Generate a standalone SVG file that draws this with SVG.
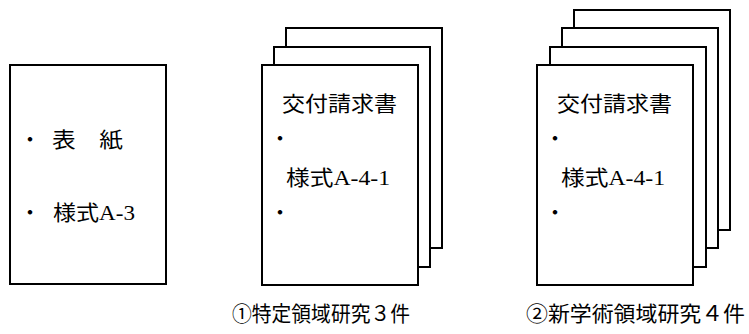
<svg xmlns="http://www.w3.org/2000/svg" width="749" height="334" viewBox="0 0 749 334">
<style>
.pg{fill:#fff;stroke:#000;stroke-width:2}
.t{font-family:"Liberation Serif","Noto Sans CJK JP",serif;font-size:21px;fill:#000}
.b{font-family:"Noto Sans CJK JP",sans-serif;font-size:21px;fill:#000;text-anchor:middle}
</style>
<rect width="749" height="334" fill="#fff"/>
<g id="cover">
<rect class="pg" x="10" y="65" width="156" height="219"/>
<text class="b" x="30" y="147">・</text>
<text class="t" x="52" y="147" textLength="71" lengthAdjust="spacingAndGlyphs">表　紙</text>
<text class="b" x="30" y="220">・</text>
<text class="t" x="53" y="220" textLength="82" lengthAdjust="spacingAndGlyphs">様式A-3</text>
</g>
<g id="stack1">
<rect class="pg" x="286" y="28" width="156" height="220"/>
<rect class="pg" x="274" y="47" width="156" height="220"/>
<rect class="pg" x="262" y="65" width="156" height="220"/>
<text class="t" x="282" y="111" textLength="115" lengthAdjust="spacingAndGlyphs">交付請求書</text>
<text class="b" x="280" y="146">・</text>
<text class="t" x="286" y="185" textLength="104" lengthAdjust="spacingAndGlyphs">様式A-4-1</text>
<text class="b" x="280" y="220">・</text>
</g>
<g id="stack2">
<rect class="pg" x="574" y="10" width="156" height="220"/>
<rect class="pg" x="562" y="28" width="156" height="220"/>
<rect class="pg" x="550" y="47" width="156" height="220"/>
<rect class="pg" x="537" y="65" width="156" height="220"/>
<text class="t" x="557" y="111" textLength="115" lengthAdjust="spacingAndGlyphs">交付請求書</text>
<text class="b" x="555" y="146">・</text>
<text class="t" x="561" y="185" textLength="104" lengthAdjust="spacingAndGlyphs">様式A-4-1</text>
<text class="b" x="555" y="220">・</text>
</g>
<g id="caption1">
<text class="t" x="232" y="321" textLength="178" lengthAdjust="spacingAndGlyphs">①特定領域研究３件</text>
</g>
<g id="caption2">
<text class="t" x="526" y="321" textLength="219" lengthAdjust="spacingAndGlyphs">②新学術領域研究４件</text>
</g>
<g id="connectors"/>
</svg>
